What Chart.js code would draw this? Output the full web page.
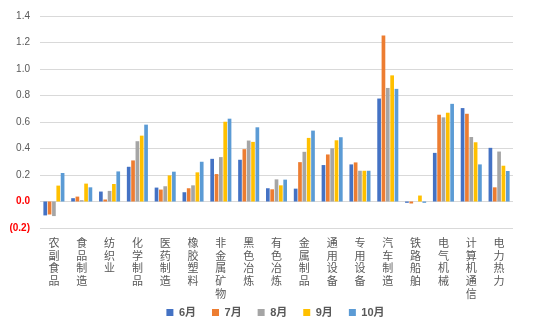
<!DOCTYPE html>
<html>
<head>
<meta charset="utf-8">
<script src="https://cdn.jsdelivr.net/npm/chart.js@4/dist/chart.umd.min.js"></script>
<style>
  html, body { margin: 0; padding: 0; background: #fff; }
</style>
</head>
<body>
<canvas id="c" width="554" height="332"></canvas>
<script>
// Industry categories (x axis)
const industries = ['农副食品', '食品制造', '纺织业', '化学制品', '医药制造', '橡胶塑料', '非金属矿物', '黑色冶炼',
  '有色冶炼', '金属制品', '通用设备', '专用设备', '汽车制造', '铁路船舶', '电气机械', '计算机通信', '电力热力'];

// Monthly series
const seriesNames = ['6月', '7月', '8月', '9月', '10月'];
const jun = [-0.105, 0.025, 0.075, 0.262, 0.105, 0.07, 0.322, 0.315, 0.1, 0.097, 0.275, 0.28, 0.777, -0.01, 0.367, 0.705, 0.405];
const jul = [-0.098, 0.037, 0.015, 0.31, 0.09, 0.1, 0.207, 0.395, 0.092, 0.297, 0.355, 0.295, 1.252, -0.015, 0.655, 0.662, 0.107];
const aug = [-0.11, 0.01, 0.08, 0.455, 0.115, 0.122, 0.335, 0.46, 0.167, 0.375, 0.402, 0.232, 0.857, 0, 0.635, 0.487, 0.377];
const sep = [0.12, 0.135, 0.132, 0.497, 0.197, 0.22, 0.602, 0.45, 0.122, 0.48, 0.462, 0.232, 0.952, 0.045, 0.67, 0.447, 0.27];
const oct = [0.215, 0.107, 0.227, 0.58, 0.225, 0.3, 0.625, 0.56, 0.165, 0.535, 0.485, 0.232, 0.85, -0.01, 0.737, 0.28, 0.23];

// Y axis range and tick step
const yMin = -0.2, yMax = 1.4, yStep = 0.2;

const colors = ['#4472C4', '#ED7D31', '#A5A5A5', '#FFC000', '#5B9BD5'];
const values = [jun, jul, aug, sep, oct];

const FONT = '"Liberation Sans", "Noto Sans CJK SC", sans-serif';
const LEGEND_GAP = '\u2002\u2002';

new Chart(document.getElementById('c'), {
  type: 'bar',
  data: {
    // each character on its own line so labels read top to bottom
    labels: industries.map(s => s.split('')),
    datasets: seriesNames.map((name, i) => ({
      label: name,
      data: values[i],
      backgroundColor: colors[i],
      borderWidth: 0,
      barPercentage: 0.85,
      categoryPercentage: 0.78
    }))
  },
  options: {
    responsive: false,
    animation: false,
    devicePixelRatio: 1,
    layout: { padding: { top: 8, right: 0, left: 8, bottom: 4 } },
    plugins: {
      tooltip: { enabled: false },
      legend: {
        position: 'bottom',
        labels: {
          boxWidth: 7,
          boxHeight: 7,
          padding: 5,
          color: '#595959',
          font: { family: FONT, size: 11, weight: 'bold' },
          generateLabels(chart) {
            const items = Chart.defaults.plugins.legend.labels.generateLabels(chart);
            items.forEach(it => { it.text = it.text + LEGEND_GAP; });
            return items;
          }
        }
      }
    },
    scales: {
      x: {
        grid: { display: false },
        border: { display: false },
        ticks: {
          color: '#595959',
          maxRotation: 0,
          minRotation: 0,
          autoSkip: false,
          padding: 1,
          font: { family: FONT, size: 11, lineHeight: 1.18 }
        },
        afterFit(scale) { scale.height = 74; }
      },
      y: {
        min: yMin,
        max: yMax,
        grid: { color: '#D9D9D9', lineWidth: 1, drawTicks: false },
        border: { display: false },
        ticks: {
          stepSize: yStep,
          padding: 10,
          color: ctx => ctx.tick.value < 0 ? '#FF0000' : '#595959',
          font: ctx => ({ family: FONT, size: 10, weight: ctx.tick && ctx.tick.value < 0 ? 'bold' : 'normal' }),
          callback: v => {
            const r = Math.round(v * 10) / 10;
            return r < 0 ? '(' + Math.abs(r).toFixed(1) + ')' : r.toFixed(1);
          }
        },
        afterFit(scale) { scale.width = 32; }
      },
      // empty margin on the right of the plot
      yRight: {
        position: 'right',
        grid: { display: false, drawOnChartArea: false },
        border: { display: false },
        ticks: { display: false },
        afterFit(scale) { scale.width = 41; }
      }
    }
  }
});
</script>
</body>
</html>
